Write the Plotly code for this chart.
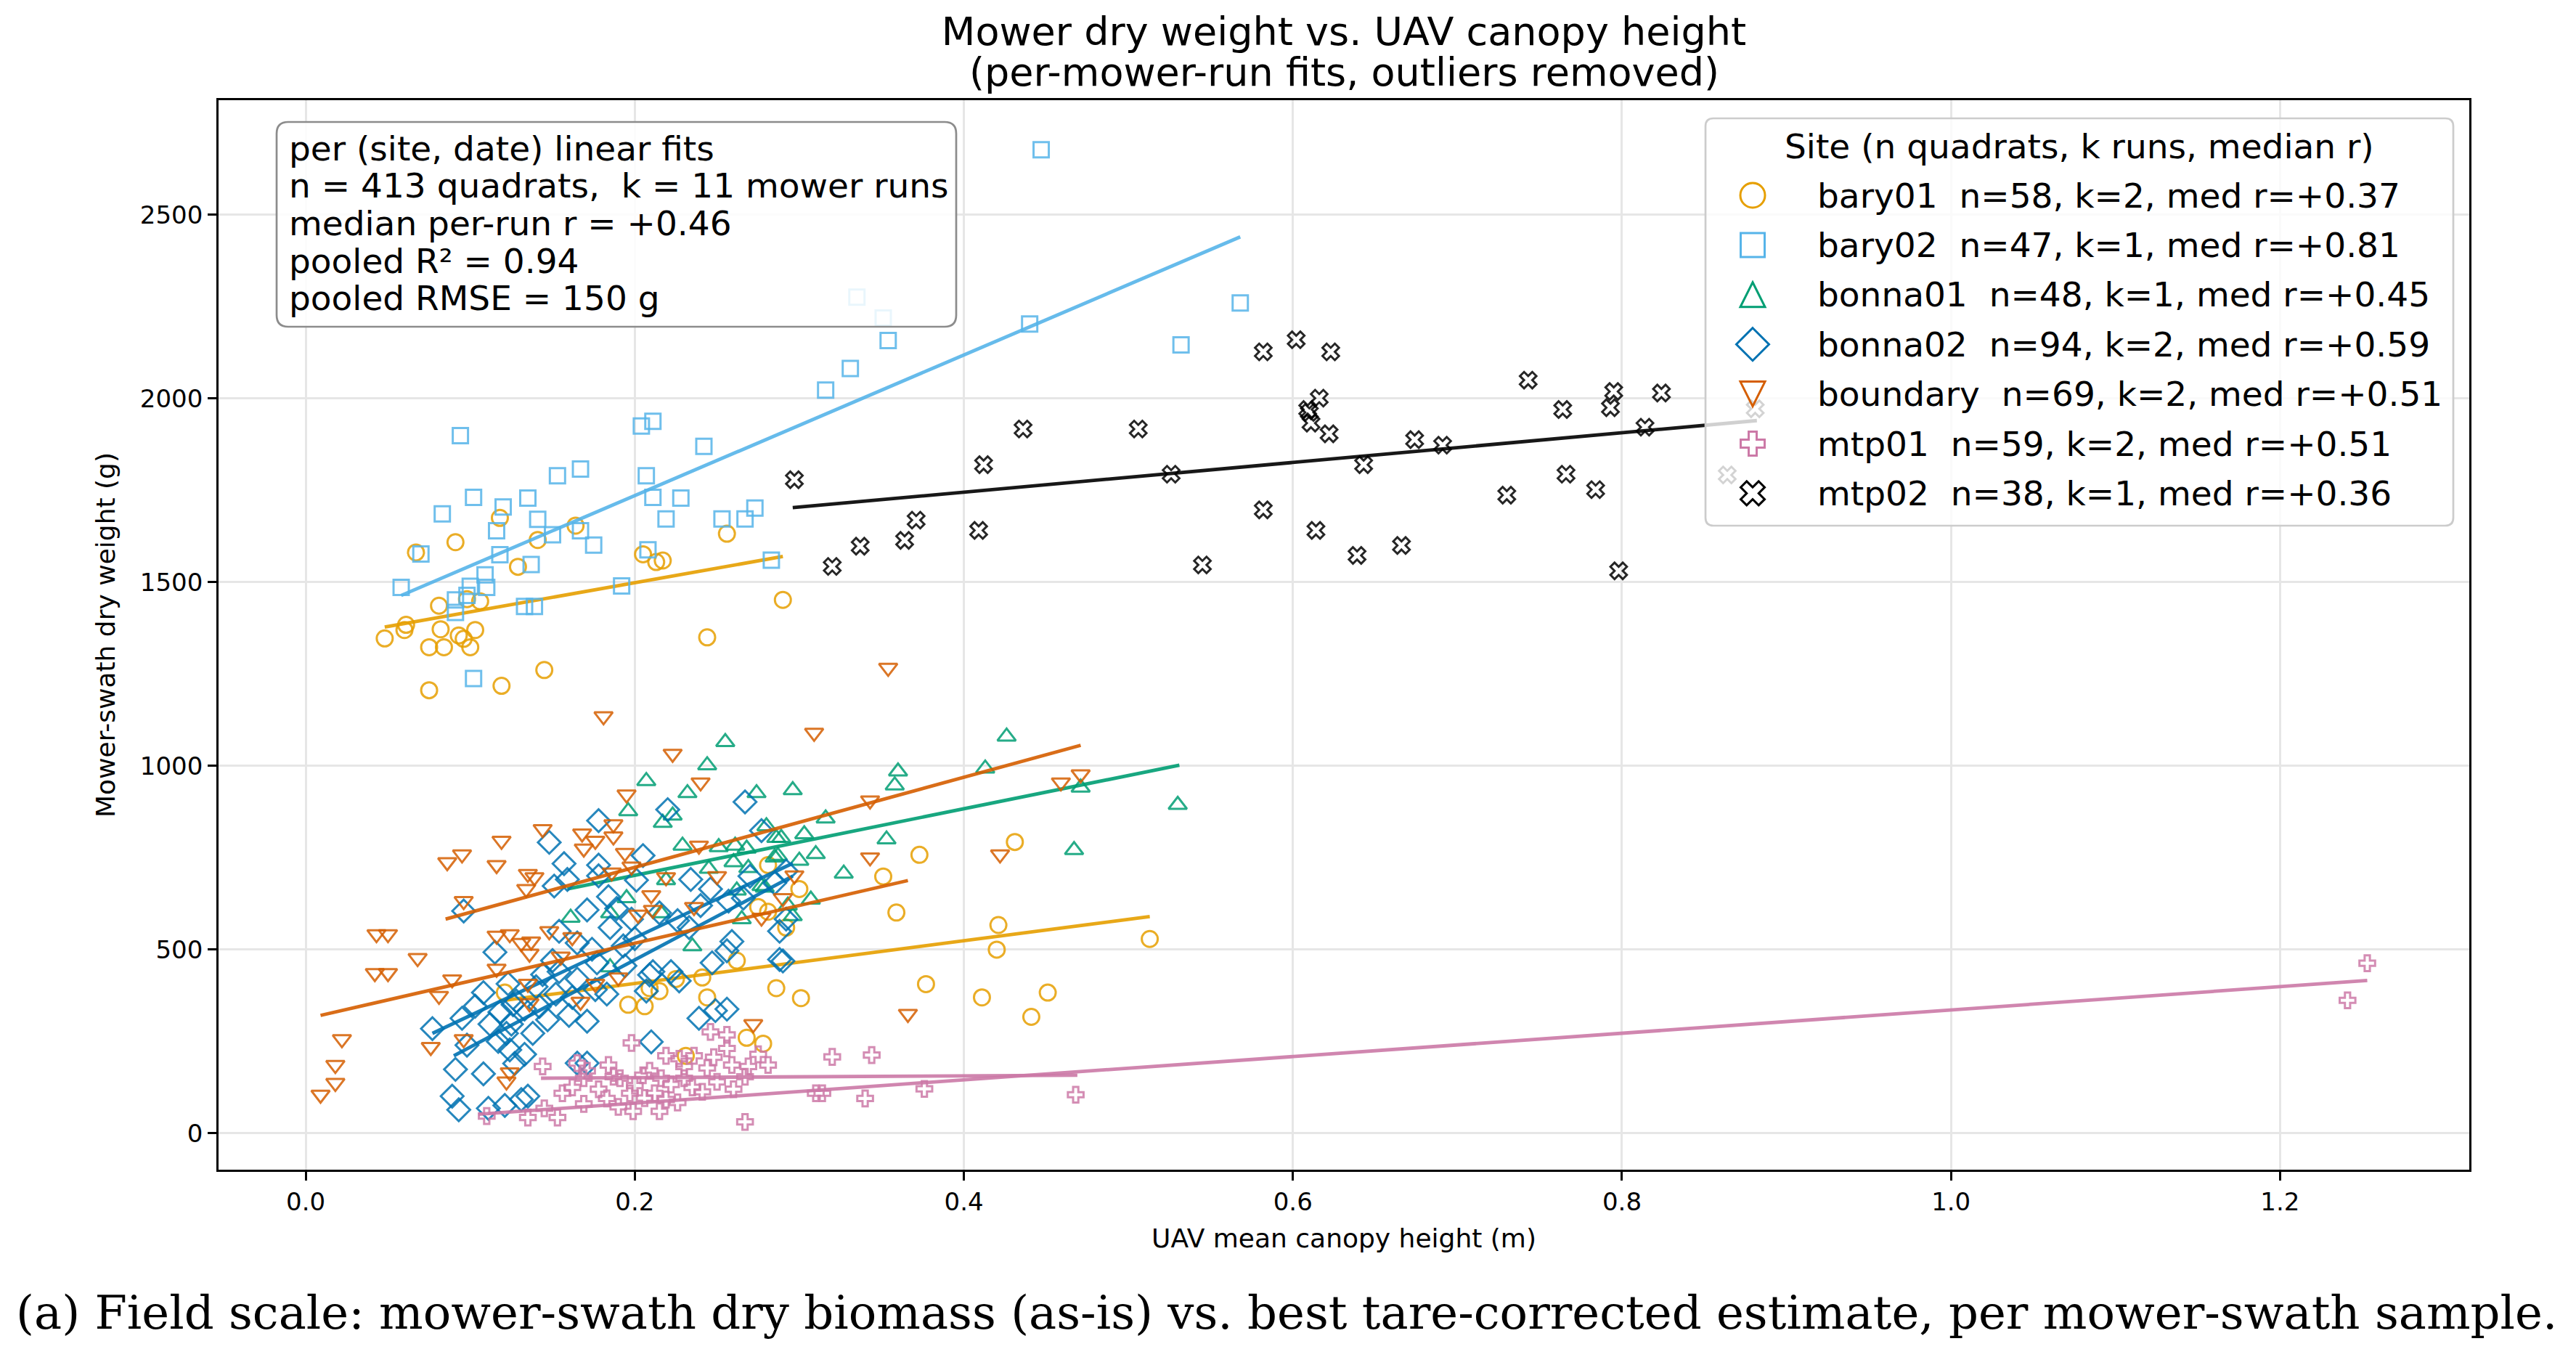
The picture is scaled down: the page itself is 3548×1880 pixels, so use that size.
import plotly.graph_objects as go

# ---------------- data ----------------
sites = ["bary01", "bary02", "bonna01", "bonna02", "boundary", "mtp01", "mtp02"]
site_n = [58, 47, 48, 94, 69, 59, 38]
site_k = [2, 1, 1, 2, 2, 2, 1]
site_med_r = [0.37, 0.81, 0.45, 0.59, 0.51, 0.51, 0.36]

median_run_r = 0.46
pooled_r2 = 0.94
pooled_rmse_g = 150

bary01_x = [0.118, 0.091, 0.067, 0.164, 0.141, 0.129, 0.256, 0.205, 0.213, 0.217, 0.081, 0.098, 0.106, 0.061,
            0.060, 0.048, 0.082, 0.093, 0.103, 0.096, 0.075, 0.084, 0.100, 0.145, 0.075, 0.119, 0.244, 0.290,
            0.121, 0.196, 0.206, 0.215, 0.209, 0.241, 0.244, 0.268, 0.278, 0.231, 0.281, 0.275, 0.281, 0.286,
            0.300, 0.301, 0.351, 0.373, 0.359, 0.377, 0.431, 0.421, 0.420, 0.411, 0.451, 0.441, 0.513, 0.262,
            0.292, 0.225]
bary01_y = [1675, 1609, 1581, 1654, 1615, 1542, 1632, 1576, 1555, 1559, 1436, 1454, 1448, 1384,
            1370, 1347, 1372, 1355, 1370, 1346, 1323, 1323, 1323, 1261, 1206, 1218, 1350, 1452,
            383, 350, 346, 387, 395, 424, 370, 260, 244, 211, 730, 616, 603, 395,
            665, 368, 699, 758, 601, 406, 793, 567, 500, 370, 383, 317, 529, 470,
            560, 420]

bary02_x = [0.335, 0.351, 0.354, 0.331, 0.316, 0.094, 0.204, 0.211, 0.242, 0.153, 0.167, 0.207, 0.083, 0.102,
            0.120, 0.135, 0.141, 0.211, 0.228, 0.219, 0.253, 0.267, 0.273, 0.116, 0.150, 0.167, 0.175, 0.118,
            0.070, 0.137, 0.208, 0.058, 0.109, 0.100, 0.110, 0.091, 0.098, 0.091, 0.133, 0.139, 0.192, 0.283,
            0.102, 0.447, 0.440, 0.568, 0.532]
bary02_y = [2276, 2219, 2158, 2082, 2023, 1899, 1925, 1938, 1870, 1790, 1808, 1790, 1686, 1731,
            1705, 1729, 1671, 1731, 1729, 1672, 1672, 1672, 1702, 1640, 1629, 1640, 1601, 1575,
            1577, 1548, 1588, 1486, 1520, 1489, 1486, 1452, 1464, 1418, 1434, 1434, 1490, 1560,
            1238, 2677, 2203, 2260, 2146]

bonna01_x = [0.255, 0.244, 0.207, 0.232, 0.274, 0.196, 0.223, 0.217, 0.229, 0.251, 0.261, 0.268, 0.280, 0.286,
             0.260, 0.269, 0.285, 0.219, 0.161, 0.185, 0.216, 0.262, 0.277, 0.265, 0.235, 0.185, 0.296, 0.360,
             0.358, 0.316, 0.413, 0.426, 0.471, 0.530, 0.467, 0.353, 0.327, 0.303, 0.289, 0.287, 0.300, 0.307,
             0.293, 0.296, 0.279, 0.245, 0.310, 0.195]
bonna01_y = [1065, 1002, 959, 926, 926, 877, 865, 845, 783, 779, 783, 775, 836, 804,
             738, 722, 751, 689, 587, 599, 599, 661, 673, 583, 509, 452, 934, 985,
             947, 857, 993, 1080, 941, 894, 771, 800, 707, 814, 804, 755, 742, 636,
             620, 591, 669, 720, 760, 640]

bonna02_x = [0.220, 0.267, 0.178, 0.148, 0.157, 0.205, 0.178, 0.151, 0.159, 0.178, 0.201, 0.234, 0.246, 0.184,
             0.171, 0.189, 0.198, 0.226, 0.257, 0.277, 0.096, 0.115, 0.154, 0.165, 0.233, 0.256, 0.247, 0.288,
             0.144, 0.154, 0.177, 0.194, 0.211, 0.222, 0.227, 0.183, 0.207, 0.162, 0.123, 0.108, 0.103, 0.095,
             0.077, 0.112, 0.147, 0.160, 0.171, 0.239, 0.249, 0.125, 0.098, 0.122, 0.124, 0.133, 0.138, 0.091,
             0.108, 0.210, 0.089, 0.093, 0.111, 0.121, 0.131, 0.135, 0.165, 0.171, 0.140, 0.133, 0.126, 0.152,
             0.176, 0.193, 0.174, 0.209, 0.259, 0.288, 0.266, 0.285, 0.292, 0.292, 0.290, 0.256, 0.118, 0.128,
             0.142, 0.117, 0.127, 0.150, 0.165, 0.185, 0.200, 0.215, 0.240, 0.270]
bonna02_y = [881, 902, 851, 792, 734, 756, 730, 673, 691, 701, 689, 691, 665, 644,
             608, 612, 583, 579, 632, 824, 605, 493, 550, 518, 560, 497, 464, 473,
             432, 440, 464, 456, 440, 440, 415, 379, 387, 370, 407, 383, 346, 313,
             285, 297, 309, 321, 305, 313, 334, 297, 240, 272, 227, 215, 272, 174,
             162, 249, 101, 64, 68, 76, 92, 101, 191, 191, 399, 338, 350, 379,
             391, 510, 501, 431, 522, 550, 640, 681, 714, 583, 469, 338, 330, 360,
             345, 250, 190, 470, 420, 560, 530, 600, 620, 700]

boundary_x = [0.181, 0.223, 0.240, 0.195, 0.187, 0.187, 0.144, 0.168, 0.176, 0.169, 0.119, 0.095, 0.086, 0.116,
              0.135, 0.139, 0.134, 0.194, 0.198, 0.186, 0.219, 0.210, 0.202, 0.211, 0.236, 0.239, 0.096, 0.043,
              0.050, 0.068, 0.042, 0.050, 0.116, 0.124, 0.131, 0.137, 0.148, 0.162, 0.136, 0.116, 0.155, 0.089,
              0.081, 0.135, 0.167, 0.176, 0.190, 0.136, 0.277, 0.272, 0.022, 0.096, 0.076, 0.018, 0.018, 0.009,
              0.124, 0.122, 0.309, 0.343, 0.343, 0.297, 0.422, 0.459, 0.471, 0.366, 0.354, 0.250, 0.290]
boundary_y = [1135, 1033, 955, 922, 841, 808, 828, 816, 796, 775, 796, 759, 738, 730,
              706, 697, 665, 763, 726, 710, 697, 648, 595, 608, 616, 783, 632, 542,
              542, 477, 436, 436, 538, 542, 518, 522, 550, 534, 489, 448, 481, 419,
              374, 407, 358, 407, 424, 354, 587, 297, 256, 256, 235, 186, 137, 105,
              166, 141, 1090, 906, 751, 702, 759, 955, 977, 325, 1267, 700, 640]

mtp01_x = [0.246, 0.256, 0.256, 0.198, 0.144, 0.165, 0.171, 0.184, 0.187, 0.191, 0.169, 0.219, 0.227, 0.236,
           0.248, 0.230, 0.244, 0.259, 0.269, 0.281, 0.267, 0.205, 0.209, 0.216, 0.162, 0.156, 0.197, 0.206,
           0.212, 0.219, 0.226, 0.222, 0.235, 0.241, 0.169, 0.190, 0.199, 0.215, 0.145, 0.135, 0.110, 0.153,
           0.267, 0.320, 0.344, 0.310, 0.314, 0.340, 0.376, 0.468, 1.253, 1.241, 0.178, 0.200, 0.230, 0.250,
           0.183, 0.260, 0.275]
mtp01_y = [276, 268, 231, 246, 182, 191, 170, 186, 154, 150, 150, 211, 203, 211,
           207, 182, 178, 186, 182, 186, 154, 158, 170, 150, 125, 109, 109, 96,
           109, 92, 84, 133, 125, 113, 80, 72, 60, 60, 68, 43, 47, 43,
           31, 208, 213, 109, 109, 95, 121, 105, 463, 362, 120, 130, 150, 140,
           95, 120, 215]

mtp02_x = [0.582, 0.602, 0.623, 0.616, 0.609, 0.610, 0.611, 0.622, 0.436, 0.506, 0.412, 0.526, 0.643, 0.674,
           0.691, 0.743, 0.764, 0.793, 0.795, 0.824, 0.814, 0.766, 0.784, 0.730, 0.582, 0.409, 0.545, 0.614,
           0.639, 0.666, 0.798, 0.297, 0.320, 0.337, 0.364, 0.371, 0.881, 0.864]
mtp02_y = [2127, 2160, 2127, 2001, 1970, 1962, 1933, 1904, 1917, 1917, 1820, 1794, 1820, 1888,
           1873, 2050, 1970, 1975, 2019, 2015, 1922, 1794, 1752, 1737, 1697, 1641, 1547, 1641,
           1573, 1600, 1531, 1779, 1543, 1598, 1614, 1669, 1972, 1792]

# per-run (site, date) linear fits: end points of each fitted segment
run_site = ["bary01", "bary01", "bary02", "bonna01", "bonna02", "bonna02",
            "boundary", "boundary", "mtp01", "mtp01", "mtp02"]
run_x0 = [0.048, 0.121, 0.058, 0.159, 0.077, 0.090, 0.009, 0.085, 0.143, 0.105, 0.296]
run_x1 = [0.290, 0.513, 0.568, 0.531, 0.296, 0.296, 0.366, 0.471, 0.469, 1.253, 0.882]
run_y0 = [1378, 362, 1464, 665, 272, 211, 321, 583, 150, 52, 1703]
run_y1 = [1570, 590, 2440, 1002, 735, 700, 688, 1056, 158, 416, 1940]

site_x = {"bary01": bary01_x, "bary02": bary02_x, "bonna01": bonna01_x, "bonna02": bonna02_x,
          "boundary": boundary_x, "mtp01": mtp01_x, "mtp02": mtp02_x}
site_y = {"bary01": bary01_y, "bary02": bary02_y, "bonna01": bonna01_y, "bonna02": bonna02_y,
          "boundary": boundary_y, "mtp01": mtp01_y, "mtp02": mtp02_y}

title_line1 = "Mower dry weight vs. UAV canopy height"
title_line2 = "(per-mower-run fits, outliers removed)"
caption = "(a) Field scale: mower-swath dry biomass (as-is) vs. best tare-corrected estimate, per mower-swath sample."

# ---------------- styles ----------------
colors = {"bary01": "#E69F00", "bary02": "#56B4E9", "bonna01": "#009E73", "bonna02": "#0072B2",
          "boundary": "#D55E00", "mtp01": "#CC79A7", "mtp02": "#000000"}
symbols = {"bary01": "circle-open", "bary02": "square-open", "bonna01": "triangle-up-open",
           "bonna02": "diamond-open", "boundary": "triangle-down-open", "mtp01": "cross-open",
           "mtp02": "x-open"}
msizes = {"bary01": 22, "bary02": 21, "bonna01": 22, "bonna02": 24, "boundary": 22, "mtp01": 18, "mtp02": 20}

FONT = "DejaVu Sans"
FIG_W, FIG_H = 3548, 1880
L, R, T, B = 301, 3401, 138, 1611
W, H = R - L, B - T


def PX(x):
    return (x - L) / W


def PY(y):
    return (B - y) / H


def poly_path(pts):
    return "M " + " L ".join(f"{PX(x):.5f},{PY(y):.5f}" for x, y in pts) + " Z"


def rounded_rect(x0, y0, x1, y1, r):
    p = lambda x, y: f"{PX(x):.5f},{PY(y):.5f}"
    return ("M " + p(x0 + r, y0) + " L " + p(x1 - r, y0) + " Q " + p(x1, y0) + " " + p(x1, y0 + r) +
            " L " + p(x1, y1 - r) + " Q " + p(x1, y1) + " " + p(x1 - r, y1) +
            " L " + p(x0 + r, y1) + " Q " + p(x0, y1) + " " + p(x0, y1 - r) +
            " L " + p(x0, y0 + r) + " Q " + p(x0, y0) + " " + p(x0 + r, y0) + " Z")


fig = go.Figure()

for s in sites:
    fig.add_trace(go.Scatter(
        x=site_x[s], y=site_y[s], mode="markers", name=s, showlegend=False,
        marker=dict(symbol=symbols[s], size=msizes[s], color=colors[s], opacity=0.85,
                    line=dict(width=3, color=colors[s])),
    ))
    for i, rs in enumerate(run_site):
        if rs == s:
            fig.add_trace(go.Scatter(
                x=[run_x0[i], run_x1[i]], y=[run_y0[i], run_y1[i]], mode="lines",
                showlegend=False, hoverinfo="skip", opacity=0.9,
                line=dict(color=colors[s], width=4.8),
            ))

shapes = []
annotations = []

# stats box
shapes.append(dict(type="path", xref="paper", yref="paper", layer="above",
                   path=rounded_rect(381, 168, 1317, 450, 16),
                   line=dict(color="#8c8c8c", width=2.7), fillcolor="rgba(255,255,255,0.85)"))
box_lines = [
    "per (site, date) linear fits",
    f"n = {sum(site_n)} quadrats,\u00a0\u00a0k = {sum(site_k)} mower runs",
    f"median per-run r = {median_run_r:+.2f}",
    f"pooled R\u00b2 = {pooled_r2:.2f}",
    f"pooled RMSE = {pooled_rmse_g} g",
]
for i, t in enumerate(box_lines):
    annotations.append(dict(text=t, xref="paper", yref="paper", x=PX(396), y=PY(204 + i * 51.7),
                            xanchor="left", yanchor="middle", showarrow=False,
                            font=dict(family=FONT, size=47, color="black")))

# legend (drawn manually so that markers can be large)
shapes.append(dict(type="path", xref="paper", yref="paper", layer="above",
                   path=rounded_rect(2349, 163, 3379, 724, 11),
                   line=dict(color="#cccccc", width=2.7), fillcolor="rgba(255,255,255,0.8)"))
annotations.append(dict(text="Site (n quadrats, k runs, median r)", xref="paper", yref="paper",
                        x=PX(2864), y=PY(201), xanchor="center", yanchor="middle", showarrow=False,
                        font=dict(family=FONT, size=47, color="black")))
mx = 2414
for i, s in enumerate(sites):
    cy = 269 + i * 68.4
    c = colors[s]
    sym = symbols[s]
    if sym == "circle-open":
        shp = dict(type="circle", x0=PX(mx - 17), x1=PX(mx + 17), y0=PY(cy - 17), y1=PY(cy + 17))
    elif sym == "square-open":
        shp = dict(type="path", path=poly_path([(mx - 16.5, cy - 16.5), (mx + 16.5, cy - 16.5),
                                                (mx + 16.5, cy + 16.5), (mx - 16.5, cy + 16.5)]))
    elif sym == "triangle-up-open":
        shp = dict(type="path", path=poly_path([(mx, cy - 17), (mx + 17, cy + 17), (mx - 17, cy + 17)]))
    elif sym == "diamond-open":
        shp = dict(type="path", path=poly_path([(mx, cy - 22.5), (mx + 22.5, cy), (mx, cy + 22.5), (mx - 22.5, cy)]))
    elif sym == "triangle-down-open":
        shp = dict(type="path", path=poly_path([(mx, cy + 17), (mx - 17, cy - 17), (mx + 17, cy - 17)]))
    elif sym == "cross-open":
        u = 33 / 6
        pts = [(-1, -3), (1, -3), (1, -1), (3, -1), (3, 1), (1, 1), (1, 3), (-1, 3), (-1, 1), (-3, 1),
               (-3, -1), (-1, -1)]
        shp = dict(type="path", path=poly_path([(mx + a * u, cy + b * u) for a, b in pts]))
    else:
        u = 33 / 4
        pts = [(-1, -2), (0, -1), (1, -2), (2, -1), (1, 0), (2, 1), (1, 2), (0, 1), (-1, 2), (-2, 1),
               (-1, 0), (-2, -1)]
        shp = dict(type="path", path=poly_path([(mx + a * u, cy + b * u) for a, b in pts]))
    shp.update(xref="paper", yref="paper", layer="above", line=dict(color=c, width=3),
               fillcolor="rgba(0,0,0,0)")
    shapes.append(shp)
    label = f"{s}\u00a0\u00a0n={site_n[i]}, k={site_k[i]}, med r={site_med_r[i]:+.2f}"
    annotations.append(dict(text=label, xref="paper", yref="paper", x=PX(2501), y=PY(cy),
                            xanchor="left", yanchor="middle", showarrow=False,
                            font=dict(family=FONT, size=47, color="black")))

# second title line
annotations.append(dict(text=title_line2, xref="paper", yref="paper", x=PX(1851), y=PY(100),
                        xanchor="center", yanchor="middle", showarrow=False,
                        font=dict(family=FONT, size=54, color="black")))

# caption
annotations.append(dict(
    text=caption, xref="paper", yref="paper", x=PX(1772), y=PY(1808), xanchor="center", yanchor="middle",
    showarrow=False, font=dict(family="DejaVu Serif", size=64, color="black")))

axis_common = dict(
    showgrid=True, gridcolor="#e6e6e6", gridwidth=2.5, zeroline=False,
    showline=True, linecolor="black", linewidth=2.7, mirror=True,
    ticks="outside", ticklen=12, tickwidth=2.7, tickcolor="black",
    tickfont=dict(family=FONT, size=34, color="black"),
)

fig.update_layout(
    width=FIG_W, height=FIG_H, autosize=False,
    margin=dict(l=L, r=FIG_W - R, t=T, b=FIG_H - B, pad=0),
    paper_bgcolor="white", plot_bgcolor="white",
    font=dict(family=FONT, color="black"),
    title=dict(text=title_line1,
               x=PX(1851), xref="paper", xanchor="center", y=1 - 43 / FIG_H, yref="container",
               yanchor="middle", font=dict(family=FONT, size=54, color="black")),
    xaxis=dict(range=[-0.053, 1.315], tickvals=[0, 0.2, 0.4, 0.6, 0.8, 1.0, 1.2], tickformat=".1f",
               title=dict(text="UAV mean canopy height (m)", standoff=20,
                          font=dict(family=FONT, size=36, color="black")),
               **axis_common),
    yaxis=dict(range=[-99, 2812], tick0=0, dtick=500,
               title=dict(text="Mower-swath dry weight (g)", standoff=24,
                          font=dict(family=FONT, size=36, color="black")),
               **axis_common),
    shapes=shapes,
    annotations=annotations,
    showlegend=False,
)

fig.write_html("out.html")
